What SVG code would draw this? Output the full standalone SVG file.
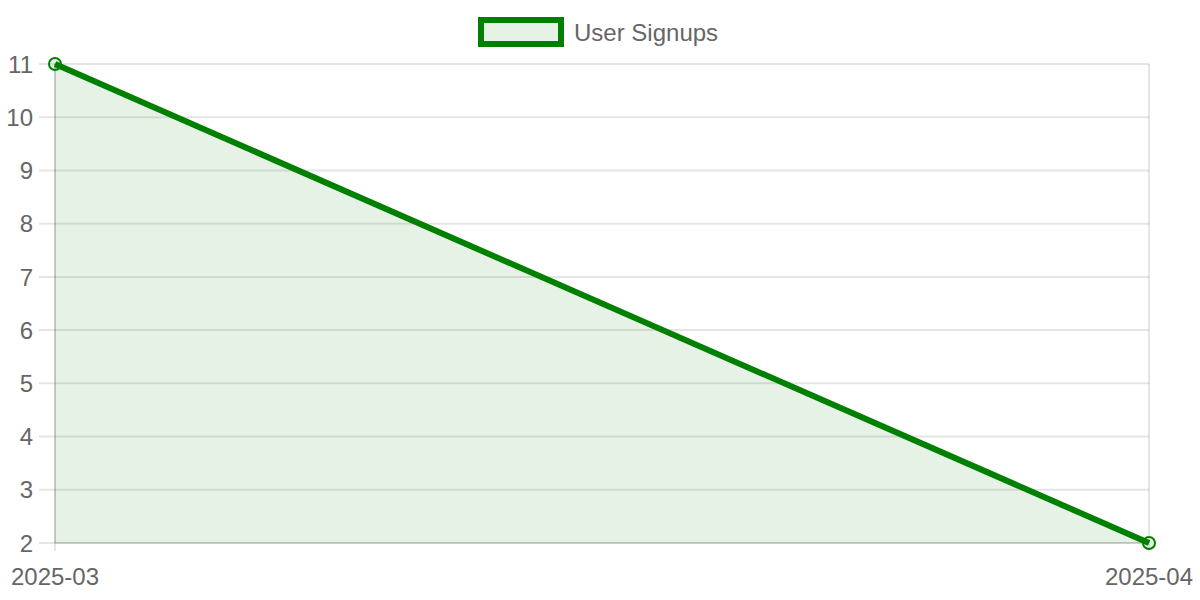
<svg xmlns="http://www.w3.org/2000/svg" width="1200" height="600" viewBox="0 0 1200 600">
<style>
text{font-family:"Liberation Sans",Arial,sans-serif;font-size:24px;fill:#666}
.g{stroke:rgba(0,0,0,0.1);stroke-width:2;fill:none}
.ax{stroke:rgba(0,0,0,0.1);stroke-width:2;fill:none}
.yl{text-anchor:end}
.xl{text-anchor:middle}
</style>
<rect width="1200" height="600" fill="#fff"/>
<g id="grid">
<path class="g" d="M39 64H1149M39 117.2H1149M39 170.4H1149M39 223.7H1149M39 276.9H1149M39 330.1H1149M39 383.3H1149M39 436.6H1149M39 489.8H1149M39 543H1149"/>
<path class="g" d="M55 64V551M1149 64V551"/>
</g>
<g id="series">
<polygon points="55,64 1149,543 55,543" fill="rgba(0,128,0,0.1)"/>
<path class="ax" d="M55 64V543M55 543H1149"/>
<polyline points="55,64 1149,543" fill="none" stroke="#008000" stroke-width="6" stroke-linejoin="round"/>
<circle cx="55" cy="64" r="6" fill="rgba(0,128,0,0.1)" stroke="#008000" stroke-width="2"/>
<circle cx="1149" cy="543" r="6" fill="rgba(0,128,0,0.1)" stroke="#008000" stroke-width="2"/>
</g>
<g id="yaxis">
<text class="yl" x="33" y="72.6">11</text>
<text class="yl" x="33" y="125.8">10</text>
<text class="yl" x="33" y="179">9</text>
<text class="yl" x="33" y="232.3">8</text>
<text class="yl" x="33" y="285.5">7</text>
<text class="yl" x="33" y="338.7">6</text>
<text class="yl" x="33" y="391.9">5</text>
<text class="yl" x="33" y="445.2">4</text>
<text class="yl" x="33" y="498.4">3</text>
<text class="yl" x="33" y="551.6">2</text>
</g>
<g id="xaxis">
<text class="xl" x="55" y="585">2025-03</text>
<text class="xl" x="1149" y="585">2025-04</text>
</g>
<g id="legend">
<rect x="481" y="20" width="80" height="24" fill="rgba(0,128,0,0.1)" stroke="#008000" stroke-width="6"/>
<text x="574" y="40.5">User Signups</text>
</g>
</svg>
